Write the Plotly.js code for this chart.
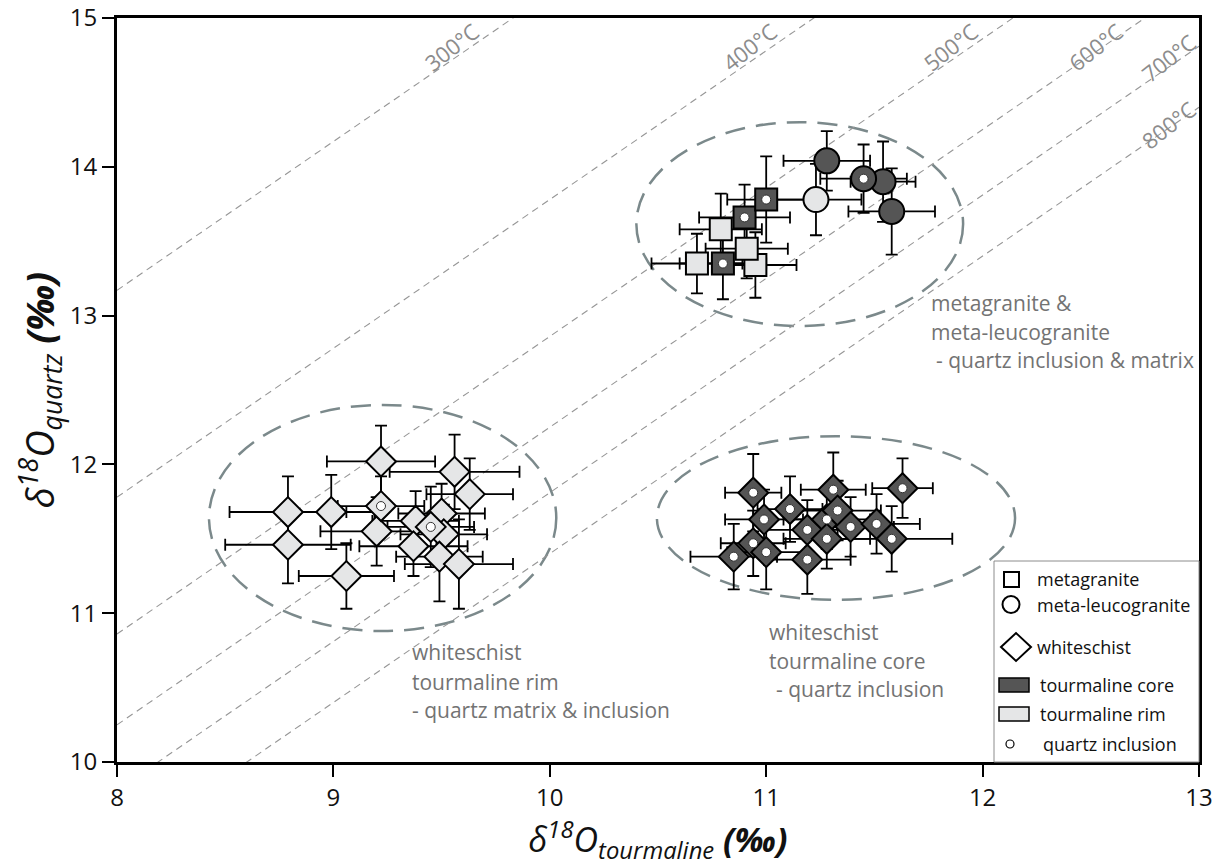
<!DOCTYPE html>
<html><head><meta charset="utf-8">
<script src="https://cdn.plot.ly/plotly-3.0.1.min.js"></script>
<style>html,body{margin:0;padding:0;background:#fff}#chart{width:1214px;height:866px}</style>
</head><body><div id="chart"></div>
<script>
// ---------- data (δ18O tourmaline, δ18O quartz, 2σ errors) ----------
// metagranite – tourmaline rim
const mgRimX  = [10.68, 10.95, 10.91, 10.79];
const mgRimY  = [13.35, 13.34, 13.45, 13.58];
const mgRimEx = [0.21, 0.19, 0.19, 0.19];
const mgRimEy = [0.20, 0.22, 0.20, 0.24];
// metagranite – tourmaline core, quartz inclusion
const mgCoreX  = [10.80, 10.90, 11.00];
const mgCoreY  = [13.35, 13.66, 13.78];
const mgCoreEx = [0.20, 0.21, 0.18];
const mgCoreEy = [0.24, 0.22, 0.29];
// meta-leucogranite – tourmaline rim
const mlRimX  = [11.23];
const mlRimY  = [13.78];
const mlRimEx = [0.21];
const mlRimEy = [0.24];
// meta-leucogranite – tourmaline core, quartz matrix
const mlCoreX  = [11.28, 11.54, 11.58];
const mlCoreY  = [14.04, 13.90, 13.70];
const mlCoreEx = [0.20, 0.15, 0.20];
const mlCoreEy = [0.20, 0.27, 0.29];
// meta-leucogranite – tourmaline core, quartz inclusion
const mlIncX  = [11.45];
const mlIncY  = [13.92];
const mlIncEx = [0.20];
const mlIncEy = [0.23];
// whiteschist – tourmaline rim, quartz matrix
const wsRimX  = [9.22, 8.79, 8.99, 9.56, 9.63, 8.79, 9.06, 9.20, 9.38, 9.50, 9.51, 9.37, 9.49, 9.58];
const wsRimY  = [12.02, 11.68, 11.68, 11.95, 11.80, 11.46, 11.25, 11.55, 11.62, 11.67, 11.53, 11.45, 11.38, 11.33];
const wsRimEx = [0.25, 0.27, 0.20, 0.30, 0.20, 0.29, 0.22, 0.26, 0.20, 0.20, 0.20, 0.25, 0.20, 0.25];
const wsRimEy = [0.24, 0.24, 0.25, 0.25, 0.24, 0.26, 0.22, 0.23, 0.20, 0.20, 0.20, 0.20, 0.30, 0.30];
// whiteschist – tourmaline rim, quartz inclusion
const wsRimIncX  = [9.22, 9.45];
const wsRimIncY  = [11.72, 11.58];
const wsRimIncEx = [0.20, 0.20];
const wsRimIncEy = [0.20, 0.27];
// whiteschist – tourmaline core, quartz inclusion
const wsCoreX  = [10.94, 11.11, 11.31, 11.63, 10.99, 10.94, 10.85, 11.00, 11.19, 11.28, 11.33, 11.28, 11.39, 11.19, 11.51, 11.58];
const wsCoreY  = [11.81, 11.70, 11.83, 11.84, 11.63, 11.47, 11.38, 11.41, 11.56, 11.63, 11.69, 11.50, 11.58, 11.36, 11.60, 11.50];
const wsCoreEx = [0.13, 0.15, 0.15, 0.14, 0.18, 0.15, 0.20, 0.18, 0.20, 0.20, 0.20, 0.20, 0.20, 0.20, 0.20, 0.28];
const wsCoreEy = [0.26, 0.22, 0.25, 0.20, 0.20, 0.22, 0.22, 0.25, 0.20, 0.20, 0.20, 0.20, 0.20, 0.23, 0.20, 0.22];

// isotherms: Δ(quartz–tourmaline) offset for each temperature
const isoTemps  = ['300°C', '400°C', '500°C', '600°C', '700°C', '800°C'];
const isoOffset = [5.17, 3.78, 2.86, 2.25, 1.81, 1.40];

// axis ticks
const xTicks = [8, 9, 10, 11, 12, 13];
const yTicks = [10, 11, 12, 13, 14, 15];

// ---------- styles ----------
const DARK = '#555555', LIGHT = '#e5e6e7', GREYTXT = '#737373', ISO = '#969696', ELL = '#7b898b';
const FONT = 'Open Sans, Noto Sans, sans-serif';

// plot-area pixel helpers (plot area: x 117..1199, y 18..762)
const L = 117, R = 1199, T = 18, B = 762;
const px = v => (v - L) / (R - L);
const py = v => (B - v) / (B - T);

const traces = [];
// isotherm lines
isoOffset.forEach((c) => {
  traces.push({type: 'scatter', mode: 'lines', x: [xTicks[0], xTicks[xTicks.length - 1]],
    y: [xTicks[0] + c, xTicks[xTicks.length - 1] + c],
    line: {color: ISO, width: 1.1, dash: '7px,5px'}, hoverinfo: 'skip', showlegend: false});
});

function errTrace(x, y, ex, ey) {
  return {type: 'scatter', mode: 'markers', x, y, hoverinfo: 'skip', showlegend: false,
    marker: {size: 1, color: 'rgba(0,0,0,0)'},
    error_x: {type: 'data', array: ex, color: '#000', thickness: 1.8, width: 6},
    error_y: {type: 'data', array: ey, color: '#000', thickness: 1.8, width: 6}};
}
function markTrace(name, x, y, symbol, size, fill) {
  return {type: 'scatter', mode: 'markers', name, x, y, showlegend: false,
    marker: {symbol, size, color: fill, line: {color: '#000', width: 2}}};
}
function dotTrace(x, y) {
  return {type: 'scatter', mode: 'markers', x, y, showlegend: false, hoverinfo: 'skip',
    marker: {symbol: 'circle', size: 9, color: '#fff', line: {color: '#333', width: 1}}};
}

const groups = [
  ['metagranite rim', mgRimX, mgRimY, mgRimEx, mgRimEy, 'square', 22, LIGHT, false],
  ['metagranite core', mgCoreX, mgCoreY, mgCoreEx, mgCoreEy, 'square', 22, DARK, true],
  ['meta-leucogranite rim', mlRimX, mlRimY, mlRimEx, mlRimEy, 'circle', 25, LIGHT, false],
  ['meta-leucogranite core', mlCoreX, mlCoreY, mlCoreEx, mlCoreEy, 'circle', 25, DARK, false],
  ['meta-leucogranite core incl.', mlIncX, mlIncY, mlIncEx, mlIncEy, 'circle', 25, DARK, true],
  ['whiteschist rim', wsRimX, wsRimY, wsRimEx, wsRimEy, 'diamond', 23, LIGHT, false],
  ['whiteschist rim incl.', wsRimIncX, wsRimIncY, wsRimIncEx, wsRimIncEy, 'diamond', 23, LIGHT, true],
  ['whiteschist core incl.', wsCoreX, wsCoreY, wsCoreEx, wsCoreEy, 'diamond', 23, DARK, true]
];
groups.forEach(g => traces.push(errTrace(g[1], g[2], g[3], g[4])));
groups.forEach(g => traces.push(markTrace(g[0], g[1], g[2], g[5], g[6], g[7])));
groups.forEach(g => { if (g[8]) traces.push(dotTrace(g[1], g[2])); });

// ---------- shapes ----------
const shapes = [
  // dashed ellipses
  {type: 'circle', xref: 'x', yref: 'y', x0: 10.40, x1: 11.91, y0: 12.93, y1: 14.30, layer: 'below',
   line: {color: ELL, width: 2.5, dash: '20px,11px'}},
  {type: 'circle', xref: 'x', yref: 'y', x0: 8.425, x1: 10.03, y0: 10.88, y1: 12.40, layer: 'below',
   line: {color: ELL, width: 2.5, dash: '20px,11px'}},
  {type: 'circle', xref: 'x', yref: 'y', x0: 10.495, x1: 12.15, y0: 11.09, y1: 12.19, layer: 'below',
   line: {color: ELL, width: 2.5, dash: '20px,11px'}},
  // legend box
  {type: 'rect', xref: 'paper', yref: 'paper', x0: px(994), x1: px(1199), y0: py(762), y1: py(561),
   fillcolor: '#fff', line: {color: '#8c8c8c', width: 1}},
  // legend symbols
  {type: 'rect', xref: 'paper', yref: 'paper', x0: px(1004), x1: px(1019), y0: py(587), y1: py(572),
   fillcolor: '#fff', line: {color: '#000', width: 2}},
  {type: 'circle', xref: 'paper', yref: 'paper', x0: px(1002.5), x1: px(1019.5), y0: py(613), y1: py(596),
   fillcolor: '#fff', line: {color: '#000', width: 2}},
  {type: 'path', xref: 'paper', yref: 'paper',
   path: `M${px(1001)},${py(647)} L${px(1016)},${py(633)} L${px(1031)},${py(647)} L${px(1016)},${py(661)} Z`,
   fillcolor: '#fff', line: {color: '#000', width: 2}},
  {type: 'rect', xref: 'paper', yref: 'paper', x0: px(999), x1: px(1029), y0: py(692), y1: py(678),
   fillcolor: DARK, line: {color: '#000', width: 1.5}},
  {type: 'rect', xref: 'paper', yref: 'paper', x0: px(999), x1: px(1029), y0: py(721), y1: py(707),
   fillcolor: LIGHT, line: {color: '#000', width: 1.5}},
  {type: 'circle', xref: 'paper', yref: 'paper', x0: px(1006), x1: px(1014), y0: py(748), y1: py(740),
   fillcolor: '#fff', line: {color: '#000', width: 1.2}}
];

// ---------- annotations ----------
const annotations = [];
const isoLabelPos = [[451, 47], [749, 47], [950, 47], [1095, 47], [1168, 58], [1168, 125]];
isoTemps.forEach((t, i) => {
  annotations.push({xref: 'paper', yref: 'paper', x: px(isoLabelPos[i][0]), y: py(isoLabelPos[i][1]),
    text: t, showarrow: false, textangle: -38, xanchor: 'center', yanchor: 'middle',
    font: {family: FONT, size: 22, color: '#8c8c8c'}});
});
const groupText = [
  ['metagranite &', 929, 303], ['meta-leucogranite', 929, 332], ['- quartz inclusion & matrix', 934, 360],
  ['whiteschist', 410, 652], ['tourmaline rim', 410, 682], ['- quartz matrix & inclusion', 410, 710],
  ['whiteschist', 767, 632], ['tourmaline core', 767, 661], ['- quartz inclusion', 774, 689]
];
groupText.forEach(g => annotations.push({xref: 'paper', yref: 'paper', x: px(g[1]), y: py(g[2]),
  text: g[0], showarrow: false, xanchor: 'left', yanchor: 'middle',
  font: {family: FONT, size: 21, color: GREYTXT}}));
const legendText = [
  ['metagranite', 1035, 579], ['meta-leucogranite', 1035, 605], ['whiteschist', 1035, 647],
  ['tourmaline core', 1038, 685], ['tourmaline rim', 1038, 714], ['quartz inclusion', 1041, 744]
];
legendText.forEach(g => annotations.push({xref: 'paper', yref: 'paper', x: px(g[1]), y: py(g[2]),
  text: g[0], showarrow: false, xanchor: 'left', yanchor: 'middle',
  font: {family: FONT, size: 18, color: '#111'}}));

const axisCommon = {showline: true, linewidth: 3, linecolor: '#000', mirror: true,
  ticks: 'outside', ticklen: 12, tickwidth: 2, tickcolor: '#000',
  showgrid: false, zeroline: false, fixedrange: true};

const layout = {
  width: 1214, height: 866,
  margin: {l: L, r: 1214 - R, t: T, b: 866 - B},
  paper_bgcolor: '#fff', plot_bgcolor: '#fff',
  showlegend: false,
  xaxis: Object.assign({}, axisCommon, {range: [8, 13], tickvals: xTicks, ticktext: xTicks.map(String),
    tickfont: {family: FONT, size: 24, color: '#111'},
    title: {text: '<i>δ<sup>18</sup>O<sub>tourmaline</sub> <b>(‰)</b></i>', standoff: 16,
      font: {family: FONT, size: 34, color: '#111'}}}),
  yaxis: Object.assign({}, axisCommon, {range: [10, 15], tickvals: yTicks, ticktext: yTicks.map(String),
    tickfont: {family: FONT, size: 24, color: '#111'},
    title: {text: '<i>δ<sup>18</sup>O<sub>quartz</sub> <b>(‰)</b></i>', standoff: 4,
      font: {family: FONT, size: 38, color: '#111'}}}),
  shapes, annotations
};

Plotly.newPlot('chart', traces, layout, {displayModeBar: false, responsive: false});
</script></body></html>
